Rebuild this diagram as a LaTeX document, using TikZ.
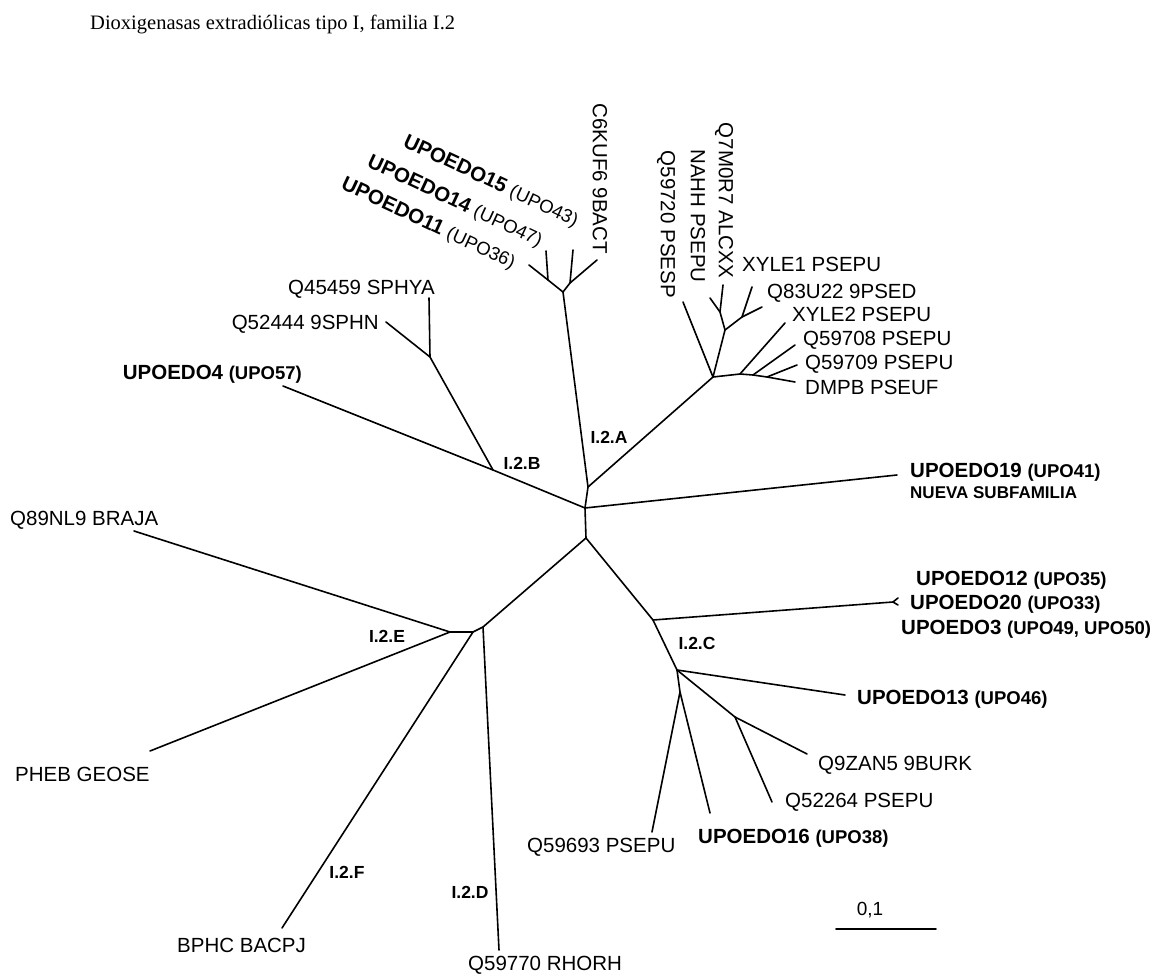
\documentclass[tikz,border=0pt]{standalone}
\usepackage{fontspec}
\setmainfont{Liberation Sans}
\newfontfamily\seriffont{Liberation Serif}
\newcommand\pz[1]{{\fontsize{18.5}{22}\selectfont #1}}
\tikzset{
  br/.style={line width=1.6pt, line cap=round, line join=round},
  lab/.style={inner sep=0pt, font=\fontsize{20.5}{24}\selectfont},
  blab/.style={inner sep=0pt, font=\fontsize{20.5}{24}\selectfont\bfseries},
  clade/.style={inner sep=0pt, font=\fontsize{17.5}{20}\selectfont\bfseries},
}
\begin{document}
\begin{tikzpicture}[x=1pt,y=-1pt]
\useasboundingbox (0,0) rectangle (1165,976);
% title
\node[inner sep=0pt, anchor=base west, font=\seriffont\fontsize{20.5}{24}\selectfont] (title) at (90,30) {Dioxigenasas extradiólicas tipo I, familia I.2};

% ---- tree coordinates
\coordinate (c1) at (585,508);
\coordinate (c2) at (586,538);
\coordinate (a0) at (588,487);
\coordinate (a1) at (563,292);
\coordinate (a1L) at (548,280);
\coordinate (a1R) at (570,283);
\coordinate (l11) at (529,265);
\coordinate (l14) at (546,251);
\coordinate (l15) at (573,250);
\coordinate (lc6) at (597,260);
\coordinate (M) at (713,377);
\coordinate (l20) at (683,302);
\coordinate (P) at (725,330);
\coordinate (Q) at (720,312);
\coordinate (lnahh) at (710,298);
\coordinate (lq7) at (723,285);
\coordinate (R) at (742,317);
\coordinate (lx1) at (752,287);
\coordinate (lq83) at (762,307);
\coordinate (S1) at (740,374);
\coordinate (lx2) at (785,323);
\coordinate (S2) at (753,375);
\coordinate (l08) at (795,345);
\coordinate (S3) at (767,377);
\coordinate (l09) at (797,365);
\coordinate (ldm) at (795,382);
\coordinate (B) at (493,470);
\coordinate (lu4) at (283,386);
\coordinate (B2) at (430,357);
\coordinate (l45) at (429,298);
\coordinate (l52) at (386,322);
\coordinate (lu19) at (897,475);
\coordinate (C0) at (653,620);
\coordinate (lu12) at (893,602);
\coordinate (lu12a) at (898,598);
\coordinate (lu12b) at (898,605);
\coordinate (C1) at (677,670);
\coordinate (lu13) at (845,695);
\coordinate (C2) at (680,692);
\coordinate (l93) at (652,832);
\coordinate (lu16) at (710,813);
\coordinate (C3) at (735,717);
\coordinate (l9z) at (807,754);
\coordinate (l522) at (772,802);
\coordinate (D0) at (483,627);
\coordinate (ld) at (499,950);
\coordinate (F0) at (473,632);
\coordinate (lb) at (282,928);
\coordinate (E0) at (450,632);
\coordinate (lq89) at (134,531);
\coordinate (lph) at (150,751);
\coordinate (s1) at (836,929);
\coordinate (s2) at (936,929);

% ---- branches
\draw[br] (c1) -- (a0) -- (a1);
\draw[br] (a1) -- (a1L) -- (l11);
\draw[br] (a1L) -- (l14);
\draw[br] (a1) -- (a1R) -- (l15);
\draw[br] (a1R) -- (lc6);
\draw[br] (a0) -- (M) -- (l20);
\draw[br] (M) -- (P) -- (Q) -- (lnahh);
\draw[br] (Q) -- (lq7);
\draw[br] (P) -- (R) -- (lx1);
\draw[br] (R) -- (lq83);
\draw[br] (M) -- (S1) -- (lx2);
\draw[br] (S1) -- (S2) -- (l08);
\draw[br] (S2) -- (S3) -- (l09);
\draw[br] (S3) -- (ldm);
\draw[br] (c1) -- (B) -- (lu4);
\draw[br] (B) -- (B2) -- (l45);
\draw[br] (B2) -- (l52);
\draw[br] (c1) -- (lu19);
\draw[br] (c1) -- (c2);
\draw[br] (c2) -- (C0) -- (lu12) -- (lu12a);
\draw[br] (lu12) -- (lu12b);
\draw[br] (C0) -- (C1) -- (lu13);
\draw[br] (C1) -- (C2) -- (l93);
\draw[br] (C2) -- (lu16);
\draw[br] (C1) -- (C3) -- (l9z);
\draw[br] (C3) -- (l522);
\draw[br] (c2) -- (D0) -- (ld);
\draw[br] (D0) -- (F0) -- (lb);
\draw[br] (F0) -- (E0) -- (lq89);
\draw[br] (E0) -- (lph);
\draw[br] (s1) -- (s2);

% ---- leaf labels
\node[blab, rotate=-25, anchor=east] (t15) at (577,222) {UPOEDO15 \pz{\mdseries(UPO43)}};
\node[blab, rotate=-25, anchor=east] (t14) at (541,242) {UPOEDO14 \pz{\mdseries(UPO47)}};
\node[blab, rotate=-25, anchor=east] (t11) at (514,264) {UPOEDO11 \pz{\mdseries(UPO36)}};
\node[lab, rotate=-90, anchor=east] (tc6) at (600,254) {C6KUF6 9BACT};
\node[lab, rotate=-90, anchor=east] (t20) at (666,298) {Q59720 PSESP};
\node[lab, rotate=-90, anchor=east] (tnahh) at (698,283) {NAHH PSEPU};
\node[lab, rotate=-90, anchor=east] (tq7) at (724,278) {Q7M0R7 ALCXX};
\node[lab, anchor=base west] (tx1) at (742,272) {XYLE1 PSEPU};
\node[lab, anchor=base west] (tq83) at (767,299) {Q83U22 9PSED};
\node[lab, anchor=base west] (tx2) at (792,322) {XYLE2 PSEPU};
\node[lab, anchor=base west] (t08) at (803,345) {Q59708 PSEPU};
\node[lab, anchor=base west] (t09) at (805,370) {Q59709 PSEPU};
\node[lab, anchor=base west] (tdm) at (805,395) {DMPB PSEUF};
\node[lab, anchor=base east] (t45) at (435,295) {Q45459 SPHYA};
\node[lab, anchor=base east] (t52) at (379,330) {Q52444 9SPHN};
\node[blab, anchor=base east] (tu4) at (302,380) {UPOEDO4 \pz{(UPO57)}};
\node[blab, anchor=base west] (tu19) at (910,477) {UPOEDO19 \pz{(UPO41)}};
\node[inner sep=0pt, anchor=base west, font=\fontsize{17}{20}\selectfont\bfseries] (tnueva) at (910,498) {NUEVA SUBFAMILIA};
\node[blab, anchor=base west] (tu12) at (916,585) {UPOEDO12 \pz{(UPO35)}};
\node[blab, anchor=base west] (tu20) at (910,609) {UPOEDO20 \pz{(UPO33)}};
\node[blab, anchor=base west] (tu3) at (901,634) {UPOEDO3 \pz{(UPO49, UPO50)}};
\node[blab, anchor=base west] (tu13) at (857,704) {UPOEDO13 \pz{(UPO46)}};
\node[lab, anchor=base west] (t9z) at (818,770) {Q9ZAN5 9BURK};
\node[lab, anchor=base west] (t522) at (785,807) {Q52264 PSEPU};
\node[blab, anchor=base west] (tu16) at (698,843) {UPOEDO16 \pz{(UPO38)}};
\node[lab, anchor=base west] (t93) at (527,852) {Q59693 PSEPU};
\node[lab, anchor=base west] (tb) at (177,952) {BPHC BACPJ};
\node[lab, anchor=base west] (td) at (468,970) {Q59770 RHORH};
\node[lab, anchor=base west] (tq89) at (10,525) {Q89NL9 BRAJA};
\node[lab, anchor=base west] (tph) at (15,781) {PHEB GEOSE};

% ---- clade labels
\node[clade] (cA) at (609,437) {I.2.A};
\node[clade] (cB) at (522,463) {I.2.B};
\node[clade] (cC) at (697,643) {I.2.C};
\node[clade] (cE) at (387,636) {I.2.E};
\node[clade] (cF) at (347,872) {I.2.F};
\node[clade] (cD) at (470,892) {I.2.D};

% ---- scale bar
\node[lab, font=\fontsize{19}{22}\selectfont] (sc) at (870,910) {0,1};
\end{tikzpicture}
\end{document}
